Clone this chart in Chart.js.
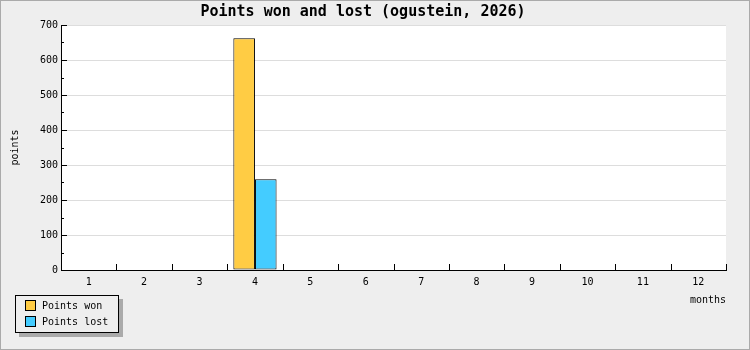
<!DOCTYPE html>
<html>
<head>
<meta charset="utf-8">
<script src="https://cdn.jsdelivr.net/npm/chart.js@4/dist/chart.umd.min.js"></script>
<style>
	body { margin: 0; background: #eeeeee; }
	#chartBox { position: relative; width: 750px; height: 350px; }
	#chartLegend {
		position: absolute; left: 15px; top: 295px;
		width: 104px; height: 38px; box-sizing: border-box;
		border: 1px solid #000; background: #eeeeee;
		box-shadow: 4px 4px 0 #aaaaaa;
		font: 10px "DejaVu Sans Mono", monospace; color: #000;
	}
	.legendItem { position: absolute; left: 9px; height: 12px; line-height: 12px; white-space: nowrap; }
	.legendBox { display: inline-block; width: 9px; height: 9px; border: 1px solid #000; vertical-align: top; margin-top: 0px; }
	.legendText { position: absolute; left: 17px; top: 0; }
</style>
</head>
<body>
<div id="chartBox">
	<canvas id="pointsChart" width="750" height="350"></canvas>
	<div id="chartLegend"></div>
</div>
<script>
const months = ['1','2','3','4','5','6','7','8','9','10','11','12'];
const pointsWon = [0, 0, 0, 662, 0, 0, 0, 0, 0, 0, 0, 0];
const pointsLost = [0, 0, 0, 259, 0, 0, 0, 0, 0, 0, 0, 0];
const seriesNames = ['Points won', 'Points lost'];
const seriesColors = ['#ffcc44', '#44ccff'];

const monoFont = '"DejaVu Sans Mono", monospace';

// background, white plot area and outer frame
const framePlugin = {
	id: 'frame',
	beforeDraw(chart) {
		const {ctx, chartArea} = chart;
		ctx.save();
		ctx.fillStyle = '#eeeeee';
		ctx.fillRect(0, 0, chart.width, chart.height);
		ctx.fillStyle = '#ffffff';
		ctx.fillRect(chartArea.left, chartArea.top, chartArea.right - chartArea.left, chartArea.bottom - chartArea.top);
		ctx.strokeStyle = '#aaaaaa';
		ctx.lineWidth = 1;
		ctx.strokeRect(0.5, 0.5, chart.width - 1, chart.height - 1);
		ctx.restore();
	}
};

// tick marks pointing into the plot
const innerTicksPlugin = {
	id: 'innerTicks',
	afterDraw(chart) {
		const {ctx, chartArea, scales} = chart;
		ctx.save();
		ctx.strokeStyle = '#000';
		ctx.lineWidth = 1;
		ctx.beginPath();
		scales.y.ticks.forEach(function(t){
			const y = Math.round(scales.y.getPixelForValue(t.value)) + 0.5;
			const len = t.value % 100 === 0 ? 6 : 3;
			ctx.moveTo(chartArea.left, y);
			ctx.lineTo(chartArea.left + len, y);
		});
		const n = scales.x.ticks.length;
		for (let i = 0; i <= n; i++){
			const x = Math.round(scales.x.getPixelForValue(i - 0.5)) + 0.5;
			ctx.moveTo(x, chartArea.bottom);
			ctx.lineTo(x, chartArea.bottom - 6);
		}
		ctx.stroke();
		ctx.restore();
	}
};

const htmlLegendPlugin = {
	id: 'htmlLegend',
	afterUpdate(chart) {
		const container = document.getElementById('chartLegend');
		container.innerHTML = '';
		const items = chart.options.plugins.legend.labels.generateLabels(chart);
		items.forEach(function(item, i){
			const row = document.createElement('div');
			row.className = 'legendItem';
			row.style.top = (4 + i * 16) + 'px';
			const box = document.createElement('span');
			box.className = 'legendBox';
			box.style.background = item.fillStyle;
			const text = document.createElement('span');
			text.className = 'legendText';
			text.textContent = item.text;
			row.appendChild(box);
			row.appendChild(text);
			container.appendChild(row);
		});
	}
};

const pointsChart = new Chart(document.getElementById('pointsChart'), {
	type: 'bar',
	data: {
		labels: months,
		datasets: [{
			label: seriesNames[0],
			data: pointsWon,
			backgroundColor: seriesColors[0],
			borderColor: '#000',
			borderWidth: 1,
			borderSkipped: false
		}, {
			label: seriesNames[1],
			data: pointsLost,
			backgroundColor: seriesColors[1],
			borderColor: '#000',
			borderWidth: 1,
			borderSkipped: false
		}]
	},
	options: {
		responsive: false,
		animation: false,
		events: [],
		datasets: {
			bar: { categoryPercentage: 0.78, barPercentage: 1 }
		},
		layout: { padding: { left: 0, right: 24, top: 0, bottom: 40 } },
		plugins: {
			legend: { display: false },
			tooltip: { enabled: false },
			title: {
				display: true,
				text: 'Points won and lost (ogustein, 2026)',
				color: '#000',
				font: { family: monoFont, size: 15, weight: 'bold' },
				padding: { top: 3.5, bottom: 3.5 }
			}
		},
		scales: {
			x: {
				grid: { display: false, drawTicks: false },
				border: { color: '#000', width: 1 },
				ticks: { color: '#000', font: { family: monoFont, size: 10 }, padding: 6, maxRotation: 0 },
				title: {
					display: true, text: 'months', align: 'end', color: '#000',
					font: { family: monoFont, size: 10 }, padding: { top: 0, bottom: 4 }
				},
				afterFit(scale){ scale.height = 40; }
			},
			y: {
				min: 0,
				max: 700,
				grid: {
					drawTicks: false,
					color: (c) => (c.tick && c.tick.value % 100 === 0) ? '#dddddd' : 'rgba(0,0,0,0)'
				},
				border: { color: '#000', width: 1 },
				ticks: {
					stepSize: 50,
					color: '#000',
					padding: 3,
					font: { family: monoFont, size: 10 },
					callback: (v) => v % 100 === 0 ? v : ''
				},
				title: {
					display: true, text: 'points', color: '#000',
					font: { family: monoFont, size: 10 }, padding: { top: 9, bottom: 0 }
				},
				afterFit(scale){ scale.width = 61; }
			}
		}
	},
	plugins: [framePlugin, innerTicksPlugin, htmlLegendPlugin]
});
</script>
</body>
</html>
